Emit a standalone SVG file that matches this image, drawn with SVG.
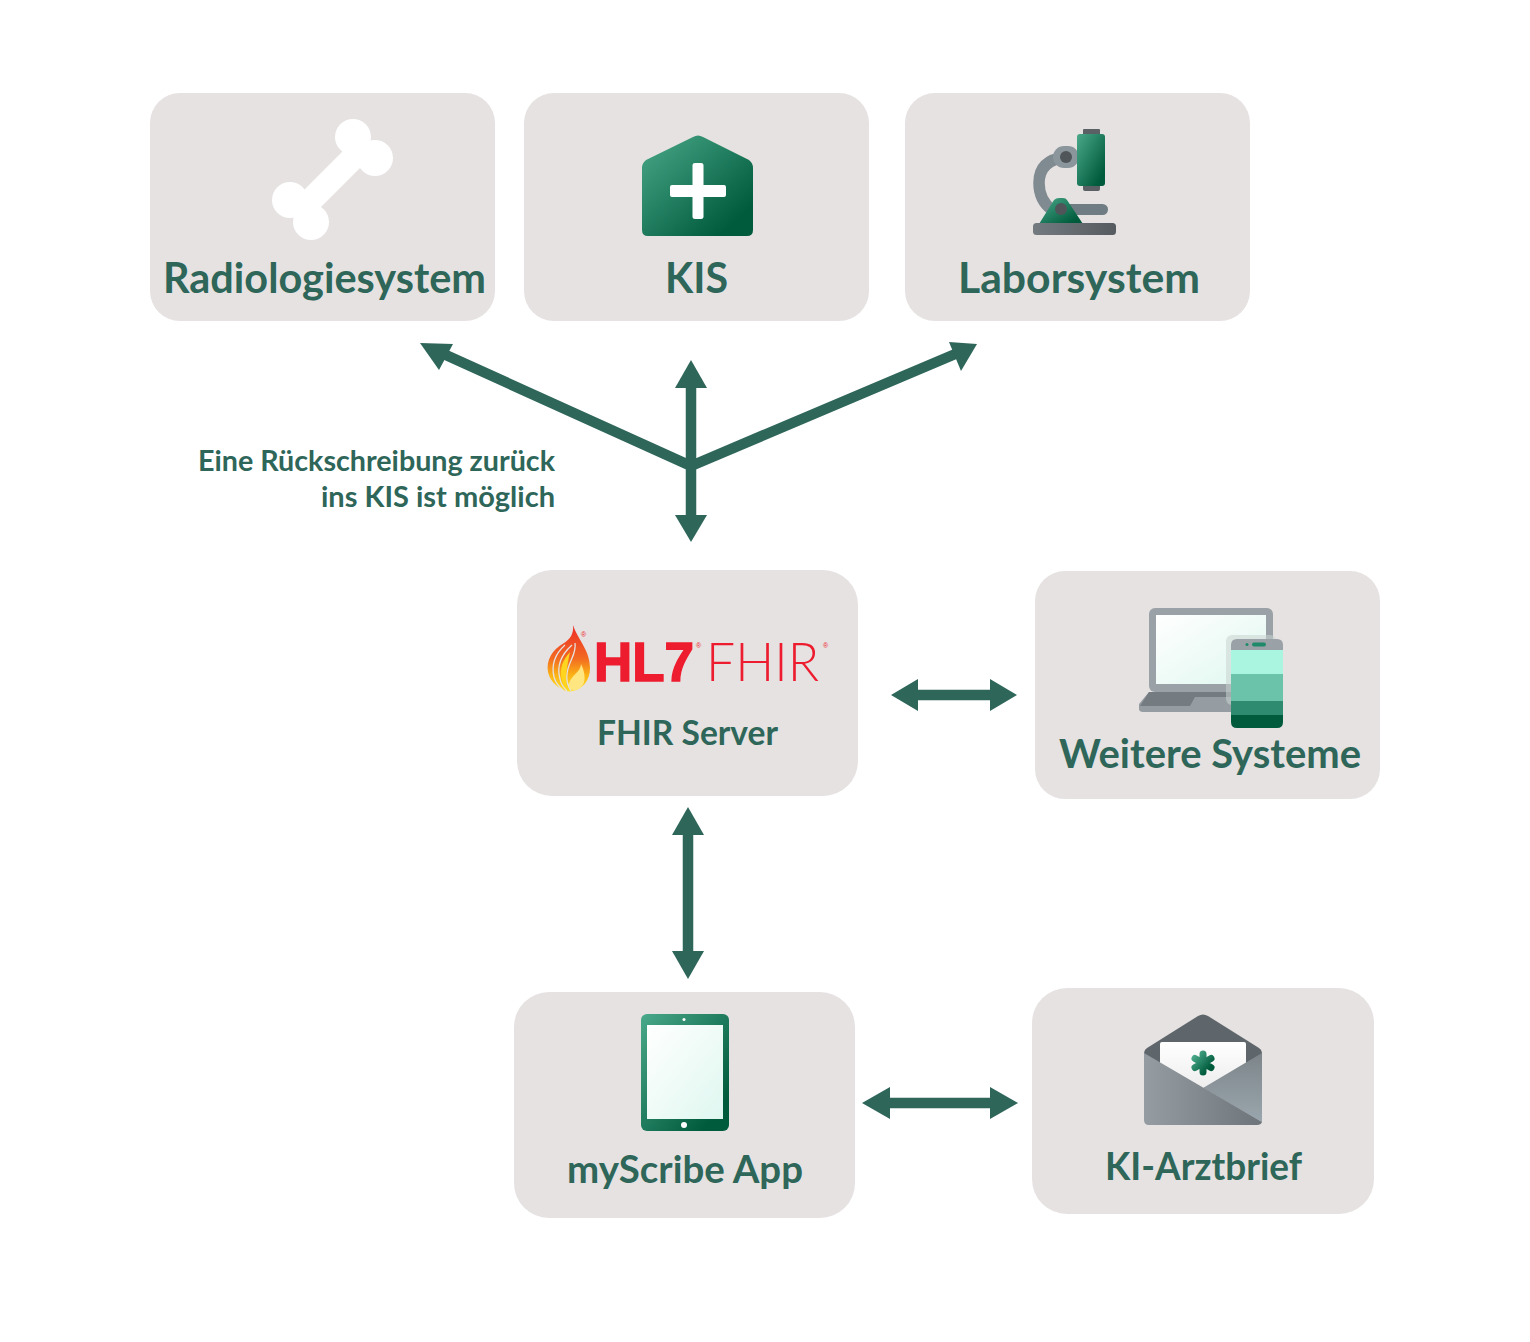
<svg xmlns="http://www.w3.org/2000/svg" width="1530" height="1342" viewBox="0 0 1530 1342">
<style>
.box{fill:#e6e2e1}
.lbl{font-family:"Lato","Liberation Sans",sans-serif;font-weight:700;fill:#2e6659;text-anchor:start}
.note{font-family:"Lato","Liberation Sans",sans-serif;font-weight:700;font-size:29px;fill:#2e6659;text-anchor:start}
.shaft{stroke:#2e6659;stroke-width:10.500;fill:none}
.head{fill:#2e6659}
</style>
<defs>
<linearGradient id="g" x1="0" y1="0" x2="1" y2="1"><stop offset="0" stop-color="#4aa98a"/><stop offset=".85" stop-color="#005a3c"/></linearGradient>
<linearGradient id="gr" x1="0" y1="0" x2="1" y2="0"><stop offset="0" stop-color="#959da3"/><stop offset="1" stop-color="#6d757a"/></linearGradient>
<linearGradient id="gr2" x1="0" y1="0" x2="0" y2="1"><stop offset="0" stop-color="#7d858a"/><stop offset="1" stop-color="#9aa6ad"/></linearGradient>
<linearGradient id="dk" x1="0" y1="0" x2="1" y2="0"><stop offset="0" stop-color="#747b80"/><stop offset="1" stop-color="#555b5f"/></linearGradient>
<linearGradient id="sc" x1="0" y1="0" x2="1" y2="1"><stop offset="0" stop-color="#ffffff"/><stop offset="1" stop-color="#dff7f0"/></linearGradient>
<linearGradient id="lt" x1="0" y1="0" x2="0" y2="1"><stop offset="0" stop-color="#ffffff"/><stop offset="1" stop-color="#e8e8e8"/></linearGradient>
<linearGradient id="fl" x1="0" y1="0" x2="0" y2="1"><stop offset="0" stop-color="#ed2a27"/><stop offset=".5" stop-color="#f26a21"/><stop offset=".75" stop-color="#fbb216"/><stop offset="1" stop-color="#ffe01f"/></linearGradient>
</defs>
<rect width="1530" height="1342" fill="#ffffff"/>
<g id="connectors">
<path class="shaft" d="M691 466L437 351M691 466V384M691 466V522M691 466L960 352M912 695H996M688 828V958M883 1103H997"/>
<polygon class="head" points="420,343 453,344 439,370"/>
<polygon class="head" points="977,344 949,342 961,371"/>
<polygon class="head" points="691,360 707,388 675,388"/>
<polygon class="head" points="691,542 707,515 675,515"/>
<polygon class="head" points="891,695 918,679 918,711"/>
<polygon class="head" points="1017,695 990,679 990,711"/>
<polygon class="head" points="688,807 704,835 672,835"/>
<polygon class="head" points="688,979 704,951 672,951"/>
<polygon class="head" points="862,1103 890,1087 890,1119"/>
<polygon class="head" points="1018,1103 990,1087 990,1119"/>
</g>
<g id="radiologiesystem">
<rect class="box" x="150" y="93" width="345" height="228" rx="30"/>
<g fill="#fff"><circle cx="353" cy="137" r="18"/><circle cx="375" cy="158" r="18"/><circle cx="290" cy="200" r="18"/><circle cx="311" cy="222" r="18"/></g>
<line x1="364" y1="147" x2="300" y2="211" stroke="#fff" stroke-width="24"/>
<text class="lbl" font-size="42" x="163" y="293" textLength="323" lengthAdjust="spacingAndGlyphs">Radiologiesystem</text>
</g>
<g id="kis">
<rect class="box" x="524" y="93" width="345" height="228" rx="30"/>
<path fill="url(#g)" d="M693 137Q698 134 703 137L749 160Q753 163 753 168V230Q753 236 747 236H648Q642 236 642 230V168Q642 163 646 160Z"/>
<path fill="#fff" d="M692.500 165Q692.500 163 695 163H701Q703.500 163 703.500 165V185H724Q726 185 726 187V195Q726 197 724 197H703.500V217Q703.500 219 701 219H695Q692.500 219 692.500 217V197H672Q670 197 670 195V187Q670 185 672 185H692.500Z"/>
<text class="lbl" font-size="42" x="665" y="293" textLength="63" lengthAdjust="spacingAndGlyphs">KIS</text>
</g>
<g id="laborsystem">
<rect class="box" x="905" y="93" width="345" height="228" rx="30"/>
<path d="M1066 157Q1039 160 1039 183Q1039 200 1052 210" fill="none" stroke="#7f8a91" stroke-width="11.500"/>
<rect x="1053" y="146" width="26" height="22" rx="11" fill="#8b969c"/>
<rect x="1062" y="204" width="46" height="11" rx="5.500" fill="#6f7c84"/>
<rect x="1083" y="129" width="17" height="8" rx="1" fill="#5a6064"/>
<rect x="1083" y="184" width="17" height="7" rx="2" fill="#5a6064"/>
<rect x="1077" y="134" width="28" height="52" rx="3" fill="url(#g)"/>
<path d="M1039 224L1054 200Q1056 198 1059 198H1063Q1066 198 1067 200L1083 224Z" fill="url(#g)"/>
<circle cx="1066" cy="157" r="6" fill="#4f5559"/>
<circle cx="1061" cy="209" r="6" fill="#4f5559"/>
<rect x="1033" y="223" width="83" height="12" rx="3.500" fill="url(#dk)"/>
<text class="lbl" font-size="42" x="958" y="293" textLength="242" lengthAdjust="spacingAndGlyphs">Laborsystem</text>
</g>
<g id="fhir-server">
<rect class="box" x="517" y="570" width="341" height="226" rx="35"/>
<path fill="url(#fl)" d="M573 625C578 640 590 650 590 668C590 680 583 690 570 691.500C560 691 550 682 548 672C546 660 552 650 564 643C570 639 574 634 573 625Z"/>
<path fill="none" stroke="#e6e2e1" stroke-width="1.300" d="M565 645C555 654 551 664 554 677C556 684 560 688 564 691M572 645C562 654 556 665 560 679C561 685 564 688 567 691M575 643C577 654 568 662 567 674C566 680 568 686 571 691"/>
<path fill="#ffd51f" d="M570 652C563 660 559 668 562 680C563 684 565 687 567 689C565 680 566 670 570 652Z"/>
<path fill="#ffe680" d="M581 664C581 672 570 676 569 684C569 689 572 691 576 690C584 688 588 679 581 664Z"/>
<text x="594" y="681" font-family="Liberation Sans,sans-serif" font-weight="700" font-size="55" fill="#ed1c2e" stroke="#ed1c2e" stroke-width="1.500" textLength="100" lengthAdjust="spacingAndGlyphs">HL7</text>
<text x="706" y="681" font-family="Lato,sans-serif" font-weight="300" font-size="53" fill="#ed1c2e" textLength="113" lengthAdjust="spacingAndGlyphs">FHIR</text>
<text x="696" y="648" font-family="Liberation Sans,sans-serif" font-size="7" fill="#ed1c2e">®</text>
<text x="823" y="648" font-family="Liberation Sans,sans-serif" font-size="7" fill="#ed1c2e">®</text>
<text x="581" y="637" font-family="Liberation Sans,sans-serif" font-size="7" fill="#ed1c2e">®</text>
<text class="lbl" font-size="34" x="597" y="745" textLength="181" lengthAdjust="spacingAndGlyphs">FHIR Server</text>
</g>
<g id="weitere-systeme">
<rect class="box" x="1035" y="571" width="345" height="228" rx="30"/>
<path fill="#959da3" d="M1149 692L1139 704V709Q1139 712 1143 712H1233V692Z"/>
<path fill="#747c82" d="M1149 692L1140 706H1190L1195 697H1233V692Z"/>
<rect x="1149" y="608" width="124" height="84" rx="6" fill="#9aa1a7"/>
<rect x="1156" y="615" width="110" height="69" fill="url(#sc)"/>
<rect x="1226" y="635" width="50" height="70" rx="6" fill="#c9d3d0" opacity=".55"/>
<path fill="#9aa1a7" d="M1231 650V645Q1231 639 1237 639H1277Q1283 639 1283 645V650Z"/>
<rect x="1231" y="650" width="52" height="24" fill="#aaf5df"/>
<rect x="1231" y="674" width="52" height="27" fill="#6bc4aa"/>
<rect x="1231" y="701" width="52" height="14" fill="#2e8b6f"/>
<path fill="#005a3c" d="M1231 715H1283V722Q1283 728 1277 728H1237Q1231 728 1231 722Z"/>
<circle cx="1247" cy="644.500" r="1.500" fill="#1f8a6a"/>
<rect x="1252" y="642.500" width="14" height="4" rx="2" fill="#1f8a6a"/>
<text class="lbl" font-size="41" x="1059" y="768" textLength="302" lengthAdjust="spacingAndGlyphs">Weitere Systeme</text>
</g>
<g id="myscribe-app">
<rect class="box" x="514" y="992" width="341" height="226" rx="35"/>
<rect x="641" y="1014" width="88" height="117" rx="6" fill="url(#g)"/>
<rect x="647" y="1025" width="76" height="94" fill="url(#sc)"/>
<circle cx="684" cy="1019.500" r="1.500" fill="#fff"/>
<circle cx="684" cy="1125" r="3" fill="#fff"/>
<text class="lbl" font-size="38" x="567" y="1183" textLength="236" lengthAdjust="spacingAndGlyphs">myScribe App</text>
</g>
<g id="ki-arztbrief">
<rect class="box" x="1032" y="988" width="342" height="226" rx="35"/>
<path fill="#5f666b" d="M1198 1016Q1203 1013 1208 1016L1259 1048Q1262 1050 1262 1054V1075H1144V1054Q1144 1050 1147 1048Z"/>
<rect x="1160" y="1042" width="86" height="60" rx="2" fill="url(#lt)"/>
<path fill="url(#gr2)" d="M1203 1088L1262 1053V1122Z"/>
<path fill="url(#gr)" d="M1144 1053L1262 1122Q1261 1125 1257 1125H1149Q1144 1125 1144 1120Z"/>
<path fill="none" stroke="url(#g)" stroke-width="7" stroke-linecap="round" d="M1203 1054V1072M1195 1058.500L1211 1067.500M1211 1058.500L1195 1067.500"/>
<text class="lbl" font-size="38" x="1105" y="1180" textLength="197" lengthAdjust="spacingAndGlyphs">KI-Arztbrief</text>
</g>
<g id="note">
<text class="note" x="198" y="471" textLength="357" lengthAdjust="spacingAndGlyphs">Eine Rückschreibung zurück</text>
<text class="note" x="321" y="507" textLength="234" lengthAdjust="spacingAndGlyphs">ins KIS ist möglich</text>
</g>
</svg>
